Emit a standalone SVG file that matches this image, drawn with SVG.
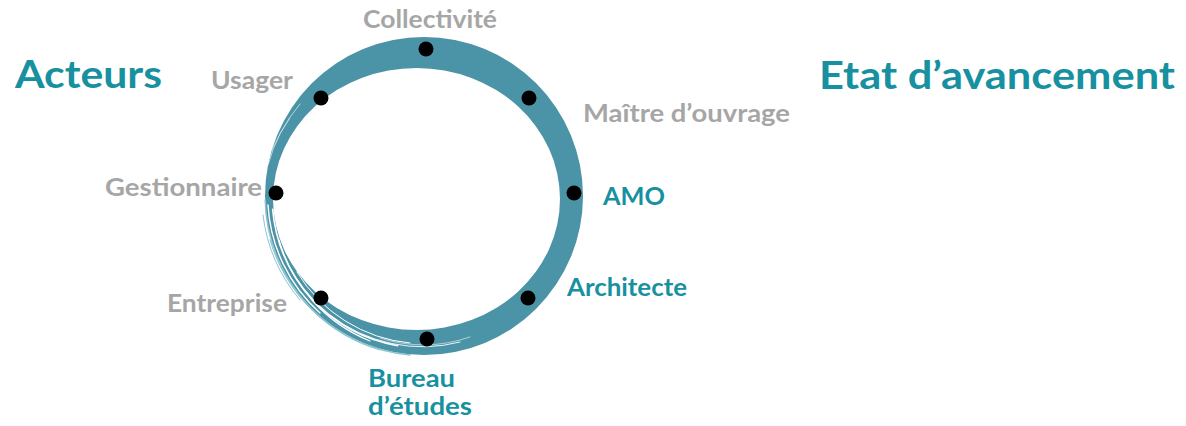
<svg xmlns="http://www.w3.org/2000/svg" width="1186" height="426" viewBox="0 0 1186 426">
  <style>
    .title { font-family: Lato, "Open Sans", "Liberation Sans", sans-serif; font-weight: 700; font-size: 39px; fill: #17909f; }
    .lbl { font-family: Lato, "Open Sans", "Liberation Sans", sans-serif; font-weight: 700; font-size: 25px; }
    .grey { fill: #a6a6a6; }
    .teal { fill: #17909f; }
    .dot { fill: #000; }
    .streak { fill: none; stroke: #ffffff; stroke-linecap: round; }
    .haze { fill: none; stroke: #8fc4d1; stroke-linecap: round; }
  </style>
  <rect width="1186" height="426" fill="#ffffff"/>

  <!-- brush-stroke ring linking the actors -->
  <g id="connectors">
    <path fill="#4b93a6" fill-rule="evenodd"
      d="M 265,196 A 159,159 0 1,0 583,196 A 159,159 0 1,0 265,196 Z
         M 273,199 A 143.5,131 0 1,0 560,199 A 143.5,131 0 1,0 273,199 Z"/>
    <!-- dry-brush streaks on the lower-left side -->
    <path class="haze" stroke-width="1.5" d="M 265.2,200 A 159,159 0 0,0 410,355"/>
    <path class="haze" stroke-width="1" d="M 270,240 A 161,161 0 0,0 380,350"/>
    <path class="haze" stroke-width="1" d="M 263,215 A 161,161 0 0,0 300,300"/>
    <path class="streak" stroke-width="1.6" d="M 272.6,209.3 A 152,152 0 0,0 397.6,345.7"/>
    <path class="streak" stroke-width="1.2" d="M 279,240 A 155,155 0 0,0 370,341"/>
    <path class="streak" stroke-width="1" d="M 297,272 A 148,148 0 0,0 410,343"/>
    <path class="streak" stroke-width="1.4" d="M 268,205 A 157,157 0 0,0 320,313"/>
    <path class="streak" stroke-width="0.9" d="M 330,315 A 150,150 0 0,0 460,342"/>
    <path class="streak" stroke-width="0.8" d="M 380,338 A 143,143 0 0,0 470,337" opacity="0.7"/>
    <path class="streak" stroke-width="1" d="M 268,165 A 157,157 0 0,1 300,104" opacity="0.6"/>
    <path class="streak" stroke-width="0.8" d="M 272,150 A 154,154 0 0,1 290,118" opacity="0.5"/>
  </g>

  <!-- headings -->
  <g id="heading-acteurs">
    <text class="title" x="15" y="88" textLength="147" lengthAdjust="spacingAndGlyphs">Acteurs</text>
  </g>
  <g id="heading-etat">
    <text class="title" x="819" y="89" textLength="356" lengthAdjust="spacingAndGlyphs">Etat d’avancement</text>
  </g>

  <!-- actors around the ring -->
  <g id="node-collectivite">
    <circle class="dot" cx="426" cy="49" r="7.5"/>
    <text class="lbl grey" x="363" y="28" textLength="134" lengthAdjust="spacingAndGlyphs">Collectivité</text>
  </g>
  <g id="node-usager">
    <circle class="dot" cx="321" cy="98" r="7.5"/>
    <text class="lbl grey" x="211" y="89" textLength="82" lengthAdjust="spacingAndGlyphs">Usager</text>
  </g>
  <g id="node-maitre-ouvrage">
    <circle class="dot" cx="529" cy="98" r="7.5"/>
    <text class="lbl grey" x="583" y="122" textLength="207" lengthAdjust="spacingAndGlyphs">Maître d’ouvrage</text>
  </g>
  <g id="node-gestionnaire">
    <circle class="dot" cx="276" cy="193" r="7.5"/>
    <text class="lbl grey" x="105" y="196" textLength="157" lengthAdjust="spacingAndGlyphs">Gestionnaire</text>
  </g>
  <g id="node-amo">
    <circle class="dot" cx="574" cy="193" r="7.5"/>
    <text class="lbl teal" x="603" y="205" textLength="62" lengthAdjust="spacingAndGlyphs">AMO</text>
  </g>
  <g id="node-entreprise">
    <circle class="dot" cx="321" cy="298" r="7.5"/>
    <text class="lbl grey" x="167" y="312" textLength="120" lengthAdjust="spacingAndGlyphs">Entreprise</text>
  </g>
  <g id="node-architecte">
    <circle class="dot" cx="528" cy="298" r="7.5"/>
    <text class="lbl teal" x="567" y="296" textLength="120" lengthAdjust="spacingAndGlyphs">Architecte</text>
  </g>
  <g id="node-bureau-etudes">
    <circle class="dot" cx="427" cy="339" r="7.5"/>
    <text class="lbl teal" x="368" y="387" textLength="87" lengthAdjust="spacingAndGlyphs">Bureau</text>
    <text class="lbl teal" x="368" y="415" textLength="104" lengthAdjust="spacingAndGlyphs">d’études</text>
  </g>
</svg>
